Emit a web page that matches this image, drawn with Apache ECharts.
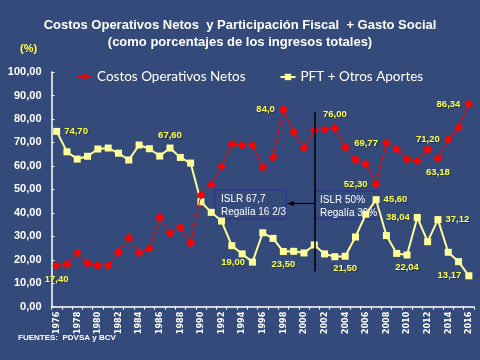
<!DOCTYPE html>
<html><head><meta charset="utf-8">
<script src="https://cdn.jsdelivr.net/npm/echarts@6/dist/echarts.min.js"></script>
<style>html,body{margin:0;padding:0;background:#344a7b}#c{width:480px;height:360px}</style>
</head><body><div id="c"></div>
<script>
const years = [];
for (let y = 1976; y <= 2016; y++) years.push(String(y));
const costos = [17.40,18.1,23.0,18.5,17.6,17.6,23.2,29.4,23.0,24.8,
  38.1,31.3,33.8,27.3,47.6,52.1,59.7,69.2,68.8,68.8,
  59.4,63.7,84.0,74.4,67.6,75.3,75.5,76.00,67.9,62.6,
  60.7,52.30,69.77,67.1,62.8,62.2,67.1,63.18,71.20,76.3,86.34];
const pft = [74.70,66.0,62.9,64.1,67.2,67.6,65.4,62.5,68.9,67.3,
  64.2,67.60,63.6,61.2,44.7,40.2,36.5,26.0,22.5,19.00,
  31.5,29.1,23.50,23.6,22.9,26.3,22.5,21.3,21.50,29.7,
  39.4,45.60,30.3,22.7,22.04,38.04,27.7,37.12,23.2,19.2,13.17];
const costosLabelText = {0:'17,40',22:'84,0',27:'76,00',31:'52,30',32:'69,77',37:'63,18',38:'71,20',40:'86,34'};
const pftLabelText = {0:'74,70',11:'67,60',19:'19,00',22:'23,50',28:'21,50',31:'45,60',34:'22,04',35:'38,04',37:'37,12',40:'13,17'};
const costosLabelPos = {0:'bottom',22:'left',27:'top',31:'left',32:'left',37:'bottom',38:'left',40:'left'};
const pftLabelPos = {0:'right',11:'top',19:'left',22:'bottom',28:'bottom',31:'right',34:'bottom',35:'left',37:'right',40:'left'};

const narrow = '"DejaVu Sans Condensed", "Liberation Sans", sans-serif';
const lblStyle = {color:'#ffff44',fontFamily:'Liberation Sans',fontWeight:'bold',fontSize:9.5,textShadowColor:'rgba(0,0,0,0.35)',textShadowBlur:1,textShadowOffsetX:1,textShadowOffsetY:1};
function build(vals, texts, pos){
  return vals.map((v,i)=>{
    if (texts[i]===undefined) return v;
    return {value:v,label:Object.assign({show:true,position:pos[i],distance:4,formatter:texts[i]},lblStyle)};
  });
}
const chart = echarts.init(document.getElementById('c'));
chart.setOption({
  backgroundColor:'#344a7b',
  animation:false,
  title:{text:'Costos Operativos Netos  y Participación Fiscal  + Gasto Social\n(como porcentajes de los ingresos totales)',
    left:'center',top:12,
    textStyle:{color:'#ffffff',fontFamily:'Liberation Sans',fontWeight:'bold',fontSize:13,lineHeight:17}},
  legend:{left:71,top:65,itemWidth:15,itemHeight:8,itemGap:34,
    textStyle:{color:'#ffffff',fontFamily:'Lato',fontSize:13.5},
    data:['Costos Operativos Netos','PFT + Otros Aportes']},
  grid:{left:51.5,right:6,top:72,bottom:53.3},
  xAxis:{type:'category',data:years,boundaryGap:true,
    axisLine:{lineStyle:{color:'#ffffff',width:1.5}},
    axisTick:{show:true,interval:0,length:3,lineStyle:{color:'#ffffff'}},
    axisLabel:{interval:1,rotate:90,color:'#ffffff',fontFamily:narrow,fontWeight:'bold',fontSize:9,margin:5}},
  yAxis:{type:'value',min:0,max:100,interval:10,
    axisLine:{show:true,lineStyle:{color:'#ffffff',width:1.5}},
    axisTick:{show:true,inside:true,length:3,lineStyle:{color:'#ffffff'}},
    splitLine:{show:false},
    axisLabel:{color:'#ffffff',fontFamily:'Liberation Sans',fontWeight:'bold',fontSize:11,margin:10,
      formatter:v=>v.toFixed(2).replace('.',',')}},
  graphic:[
    {type:'text',left:20,top:43,style:{text:'(%)',fill:'#ffff44',font:'bold 11px "Liberation Sans"'}},
    {type:'text',left:18,top:334,style:{text:'FUENTES:  PDVSA y BCV',fill:'#ffffff',font:'bold 8px "Liberation Sans"'}},
    {type:'rect',shape:{x:215,y:190,width:71,height:29},style:{fill:'#344a7b',stroke:'#2c2f8f',lineWidth:1},z:1},
    {type:'text',x:221,y:193,style:{text:'ISLR 67,7\nRegalía 16 2/3',fill:'#ffffff',font:'10px "Liberation Sans"',lineHeight:13},z:1},
    {type:'rect',shape:{x:315,y:191,width:64,height:28},style:{fill:'#344a7b',stroke:'#2c2f8f',lineWidth:1},z:1},
    {type:'text',x:320,y:194,style:{text:'ISLR 50%\nRegalía 30%',fill:'#ffffff',font:'10px "Liberation Sans"',lineHeight:13},z:1},
    {type:'line',shape:{x1:292,y1:203.5,x2:315,y2:203.5},style:{stroke:'#000000',lineWidth:1.2},z:1},
    {type:'polygon',shape:{points:[[287,203.5],[294,201],[294,206]]},style:{fill:'#000000'},z:1}
  ],
  series:[
    {name:'Costos Operativos Netos',type:'line',data:build(costos,costosLabelText,costosLabelPos),
      showAllSymbol:true,symbol:'diamond',symbolSize:9,itemStyle:{color:'#ff0000'},lineStyle:{color:'#ff0000',width:1},z:4,
      labelLayout:{hideOverlap:false},
      markLine:{silent:true,symbol:'none',label:{show:false},lineStyle:{color:'#000000',width:1.5,type:'solid'},
        data:[[{coord:['2001',83]},{coord:['2001',15]}]]}},
    {name:'PFT + Otros Aportes',type:'line',data:build(pft,pftLabelText,pftLabelPos),
      showAllSymbol:true,symbol:'rect',symbolSize:7,itemStyle:{color:'#ffff99'},lineStyle:{color:'#ffff99',width:2},z:3,
      labelLayout:{hideOverlap:false}}
  ]
});
</script></body></html>
